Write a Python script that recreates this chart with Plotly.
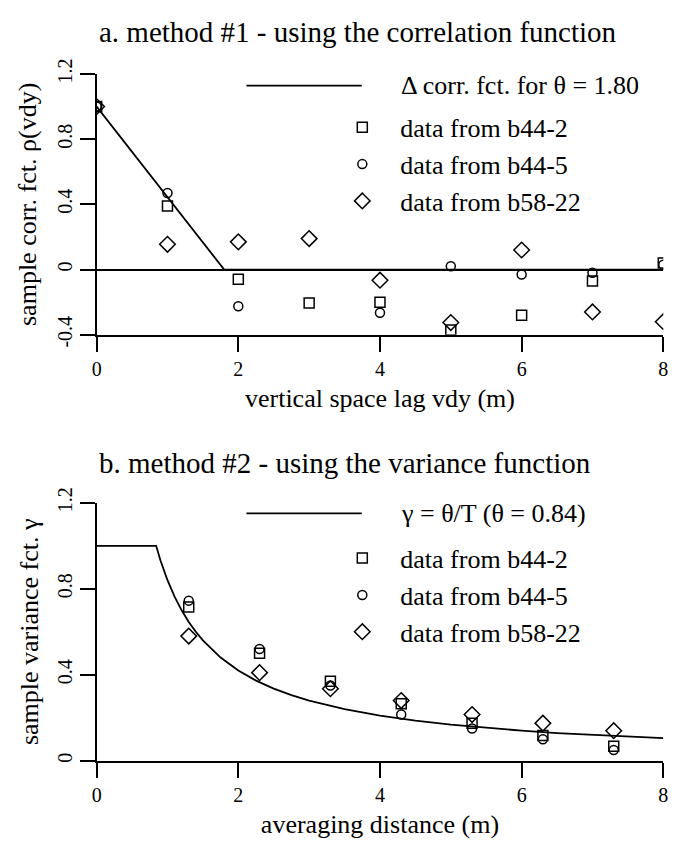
import plotly.graph_objects as go

# ---------------- data ----------------
# panel a: sample correlation vs vertical lag
lag = [0, 1, 2, 3, 4, 5, 6, 7, 8]
corr_b44_2 = [1.0, 0.39, -0.06, -0.205, -0.20, -0.37, -0.28, -0.07, 0.04]
corr_b44_5 = [1.0, 0.47, -0.225, None, -0.265, 0.02, -0.03, -0.02, 0.03]
corr_b58_22 = [1.0, 0.155, 0.17, 0.19, -0.065, -0.325, 0.12, -0.26, -0.32]
tri_x = [0, 1.8, 8]
tri_y = [1.0, 0.0, 0.0]

# panel b: sample variance function vs averaging distance
avg_T = [1.3, 2.3, 3.3, 4.3, 5.3, 6.3, 7.3]
var_b44_2 = [0.715, 0.50, 0.37, 0.265, 0.175, 0.117, 0.067]
var_b44_5 = [0.745, 0.52, 0.35, 0.215, 0.15, 0.10, 0.05]
var_b58_22 = [0.58, 0.41, 0.335, 0.28, 0.215, 0.175, 0.14]
curve_T = [0, 0.84, 0.9, 1.0, 1.1, 1.2, 1.3, 1.4, 1.5, 1.75, 2.0, 2.25, 2.5, 2.75, 3.0, 3.5,
           4.0, 4.5, 5.0, 5.5, 6.0, 6.5, 7.0, 7.5, 8.0]
curve_g = [1.0, 1.0, 0.933, 0.84, 0.764, 0.70, 0.646, 0.60, 0.56, 0.48, 0.42, 0.373, 0.336, 0.305,
           0.28, 0.24, 0.21, 0.187, 0.168, 0.153, 0.14, 0.129, 0.12, 0.112, 0.105]

# tick labels
x_ticks = [0, 2, 4, 6, 8]
x_ticktext = ["0", "2", "4", "6", "8"]
ya_ticks = [-0.4, 0, 0.4, 0.8, 1.2]
ya_ticktext = ["-0.4", "0", "0.4", "0.8", "1.2"]
yb_ticks = [0, 0.4, 0.8, 1.2]
yb_ticktext = ["0", "0.4", "0.8", "1.2"]

series_names = ["data from b44-2", "data from b44-5", "data from b58-22"]
line_label_a = "\u0394 corr. fct. for \u03b8 = 1.80"
line_label_b = "\u03b3 = \u03b8/T (\u03b8 = 0.84)"

FONT = "Liberation Serif, Times New Roman, serif"
W, H = 689, 852

def px(x):
    return x / W

def py(y):
    return 1 - y / H

fig = go.Figure()

sym = ["square-open", "circle-open", "diamond-open"]
sizes = [10, 9, 12]

# panel a traces
fig.add_trace(go.Scatter(x=tri_x, y=tri_y, mode="lines", line=dict(color="black", width=1.8),
                         showlegend=False, xaxis="x", yaxis="y"))
for name, ys, s, sz in zip(series_names, [corr_b44_2, corr_b44_5, corr_b58_22], sym, sizes):
    fig.add_trace(go.Scatter(x=lag, y=ys, mode="markers", name=name,
                             marker=dict(symbol=s, size=sz, color="black", line=dict(width=1.5, color="black")),
                             xaxis="x", yaxis="y", legend="legend"))

# panel b traces
fig.add_trace(go.Scatter(x=curve_T, y=curve_g, mode="lines", line=dict(color="black", width=1.8),
                         showlegend=False, xaxis="x2", yaxis="y2"))
for name, ys, s, sz in zip(series_names, [var_b44_2, var_b44_5, var_b58_22], sym, sizes):
    fig.add_trace(go.Scatter(x=avg_T, y=ys, mode="markers", name=name,
                             marker=dict(symbol=s, size=sz, color="black", line=dict(width=1.5, color="black")),
                             xaxis="x2", yaxis="y2", legend="legend2"))

axis_common = dict(showline=True, linecolor="black", linewidth=1.8, ticks="outside", ticklen=15,
                   tickwidth=1.8, tickcolor="black", showgrid=False, zeroline=False,
                   tickfont=dict(family=FONT, size=20, color="black"))

title_font = dict(family=FONT, size=26, color="black")
xdom = [px(93), px(668)]
fig.update_layout(
    width=W, height=H, margin=dict(l=0, r=0, t=0, b=0),
    paper_bgcolor="white", plot_bgcolor="white",
    font=dict(family=FONT, color="black"),
    xaxis=dict(domain=xdom, range=[0, 8], anchor="y", tickvals=x_ticks, ticktext=x_ticktext,
               title=dict(text="vertical space lag vdy (m)", font=title_font, standoff=10),
               **axis_common),
    yaxis=dict(domain=[py(330), py(60)], range=[-0.4, 1.2], anchor="x", tickvals=ya_ticks, ticktext=ya_ticktext,
               tickangle=-90,
               title=dict(text="sample corr. fct. \u03c1(vdy)", font=title_font, standoff=10),
               **{**axis_common, "zeroline": True, "zerolinecolor": "black", "zerolinewidth": 1.8}),
    xaxis2=dict(domain=xdom, range=[0, 8], anchor="y2", tickvals=x_ticks, ticktext=x_ticktext,
                title=dict(text="averaging distance (m)", font=title_font, standoff=10),
                **axis_common),
    yaxis2=dict(domain=[py(771), py(504)], range=[0, 1.2], anchor="x2", tickvals=yb_ticks, ticktext=yb_ticktext,
                tickangle=-90,
                title=dict(text="sample variance fct. \u03b3", font=title_font, standoff=8),
                **axis_common),
    legend=dict(x=px(324), y=py(91), xanchor="left", yanchor="top", itemwidth=66,
                font=dict(family=FONT, size=26), bgcolor="rgba(0,0,0,0)", tracegroupgap=0),
    legend2=dict(x=px(324), y=py(537), xanchor="left", yanchor="top", itemwidth=66,
                 font=dict(family=FONT, size=26), bgcolor="rgba(0,0,0,0)", tracegroupgap=0),
)

# titles
fig.add_annotation(text="a. method #1 - using the correlation function", x=px(93), y=py(17),
                   xref="paper", yref="paper", xanchor="left", yanchor="middle", showarrow=False,
                   font=dict(family=FONT, size=29))
fig.add_annotation(text="b. method #2 - using the variance function", x=px(93), y=py(463),
                   xref="paper", yref="paper", xanchor="left", yanchor="middle", showarrow=False,
                   font=dict(family=FONT, size=29))

# line-key entries of the legends
for yk, lbl in [(72, line_label_a), (515, line_label_b)]:
    fig.add_shape(type="line", xref="paper", yref="paper", x0=px(245), x1=px(362), y0=py(yk), y1=py(yk),
                  line=dict(color="black", width=1.8))
    fig.add_annotation(text=lbl, x=px(400), y=py(yk), xref="paper", yref="paper", xanchor="left",
                       yanchor="middle", showarrow=False, font=dict(family=FONT, size=26))

fig.write_html("out.html")
